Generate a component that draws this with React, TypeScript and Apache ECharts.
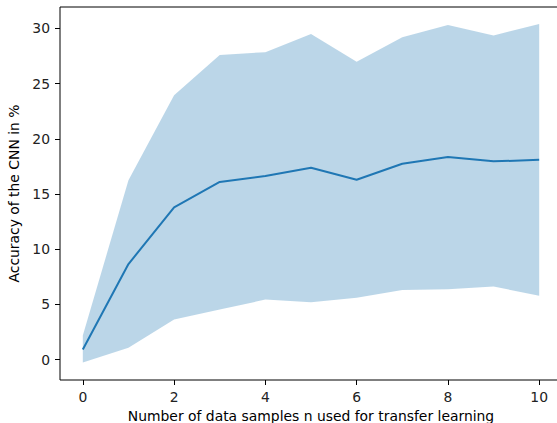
import React, { useEffect, useRef } from "react";
import * as echarts from "echarts";

const samples = [0, 1, 2, 3, 4, 5, 6, 7, 8, 9, 10];
const meanAcc = [0.93, 8.66, 13.8, 16.1, 16.63, 17.38, 16.3, 17.74, 18.35, 17.96, 18.1];
const upperAcc = [2.2, 16.25, 23.94, 27.6, 27.85, 29.5, 26.98, 29.2, 30.3, 29.36, 30.4];
const lowerAcc = [-0.25, 1.08, 3.64, 4.55, 5.44, 5.2, 5.6, 6.32, 6.37, 6.62, 5.8];
const xTicks = [0, 2, 4, 6, 8, 10];
const yTicks = [0, 5, 10, 15, 20, 25, 30];

const FONT = "DejaVu Sans";

export default function App() {
  const ref = useRef<HTMLDivElement>(null);
  useEffect(() => {
    if (!ref.current) return;
    const chart = echarts.init(ref.current, null, { renderer: "svg" });
    chart.setOption({
      animation: false,
      grid: {
        left: 60,
        top: 7,
        right: -5,
        bottom: 43,
        outerBoundsMode: "none",
        containLabel: false,
        show: true,
        borderColor: "#000",
        borderWidth: 1,
        backgroundColor: "transparent",
      },
      xAxis: {
        type: "value",
        min: -0.5,
        max: 10.5,
        name: "Number of data samples n used for transfer learning",
        nameLocation: "middle",
        nameGap: 29,
        nameTextStyle: { fontFamily: FONT, fontSize: 13.9, color: "#000" },
        axisLine: { show: false, onZero: false },
        splitLine: { show: false },
        axisTick: { show: true, length: 5, lineStyle: { color: "#000" }, customValues: xTicks },
        axisLabel: { fontFamily: FONT, fontSize: 13.9, color: "#222", margin: 10, customValues: xTicks },
      },
      yAxis: {
        type: "value",
        min: -1.84,
        max: 31.94,
        name: "Accuracy of the CNN in %",
        nameLocation: "middle",
        nameGap: 31,
        nameTextStyle: { fontFamily: FONT, fontSize: 13.9, color: "#000" },
        axisLine: { show: false, onZero: false },
        splitLine: { show: false },
        axisTick: { show: true, length: 5, lineStyle: { color: "#000" }, customValues: yTicks },
        axisLabel: { fontFamily: FONT, fontSize: 13.9, color: "#222", margin: 10, customValues: yTicks },
      },
      series: [
        {
          type: "custom",
          data: [[0, 0]],
          silent: true,
          z: 1,
          renderItem: (params: any, api: any) => {
            const pts: number[][] = [];
            for (let i = 0; i < samples.length; i++) pts.push(api.coord([samples[i], upperAcc[i]]));
            for (let i = samples.length - 1; i >= 0; i--) pts.push(api.coord([samples[i], lowerAcc[i]]));
            return {
              type: "polygon",
              shape: { points: pts },
              style: { fill: "rgba(31,119,180,0.3)", lineWidth: 0 },
            };
          },
        },
        {
          type: "line",
          data: samples.map((x, i) => [x, meanAcc[i]]),
          showSymbol: false,
          z: 2,
          lineStyle: { color: "#1f77b4", width: 2 },
          itemStyle: { color: "#1f77b4" },
        },
      ],
    });
    return () => chart.dispose();
  }, []);
  return (
    <div
      ref={ref}
      style={{ position: "absolute", left: 0, top: 0, width: 557, height: 423, background: "#fff" }}
    />
  );
}
